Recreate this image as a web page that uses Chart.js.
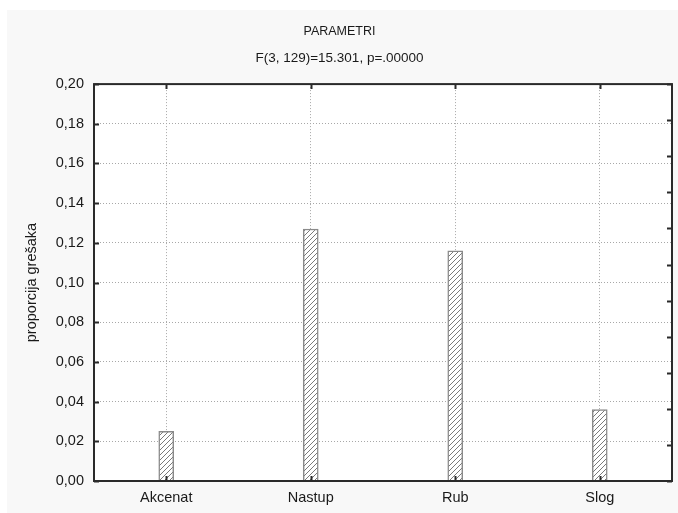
<!DOCTYPE html>
<html>
<head>
<meta charset="utf-8">
<title>PARAMETRI</title>
<script src="https://cdn.jsdelivr.net/npm/chart.js@4/dist/chart.umd.min.js"></script>
<style>
  html, body { margin: 0; padding: 0; background: #ffffff; }
  canvas { display: block; }
</style>
</head>
<body>
<canvas id="chart" width="678" height="513"></canvas>
<script>
// Error proportions per parameter
const categories = ['Akcenat', 'Nastup', 'Rub', 'Slog'];
const proportions = [0.025, 0.127, 0.116, 0.036];

const chartTitle = 'PARAMETRI';
const chartSubtitle = 'F(3, 129)=15.301, p=.00000';
const yAxisTitle = 'proporcija grešaka';
const yMin = 0;
const yMax = 0.2;
const yStep = 0.02;
// right-hand frame axis divisions
const rightDivisions = 11;

const FONT = 'Liberation Sans, Arial, sans-serif';
const TEXT = '#1a1a1a';

// diagonal hatch fill for the bars
function hatchPattern() {
  const c = document.createElement('canvas');
  c.width = 5; c.height = 5;
  const g = c.getContext('2d');
  g.fillStyle = '#ffffff';
  g.fillRect(0, 0, 5, 5);
  g.strokeStyle = '#7a7a7a';
  g.lineWidth = 1;
  g.beginPath();
  g.moveTo(-1, 6); g.lineTo(6, -1);
  g.moveTo(-1, 1); g.lineTo(1, -1);
  g.moveTo(4, 6); g.lineTo(6, 4);
  g.stroke();
  return g.createPattern(c, 'repeat');
}

// panel background, white plot area, frame and inward tick marks
const framePlugin = {
  id: 'frame',
  beforeDraw(chart) {
    const ctx = chart.ctx;
    const a = chart.chartArea;
    ctx.save();
    ctx.fillStyle = '#f8f8f8';
    ctx.fillRect(7, 10, chart.width - 7, chart.height - 10);
    ctx.fillStyle = '#ffffff';
    ctx.fillRect(a.left, a.top, a.right - a.left, a.bottom - a.top);
    ctx.restore();
  },
  afterDraw(chart) {
    const ctx = chart.ctx;
    const a = chart.chartArea;
    const x = chart.scales.x;
    const y = chart.scales.y;
    const yr = chart.scales.yr;
    ctx.save();
    ctx.strokeStyle = '#2a2a2a';
    ctx.lineWidth = 2;
    ctx.strokeRect(a.left, a.top, a.right - a.left, a.bottom - a.top);
    ctx.beginPath();
    y.ticks.forEach((t, i) => {
      const py = Math.round(y.getPixelForTick(i)) + 0.5;
      ctx.moveTo(a.left, py); ctx.lineTo(a.left + 5, py);
    });
    yr.ticks.forEach((t, i) => {
      const py = Math.round(yr.getPixelForTick(i)) + 0.5;
      ctx.moveTo(a.right, py); ctx.lineTo(a.right - 5, py);
    });
    categories.forEach((c, i) => {
      const px = Math.round(x.getPixelForValue(i)) + 0.5;
      ctx.moveTo(px, a.bottom); ctx.lineTo(px, a.bottom - 5);
      ctx.moveTo(px, a.top); ctx.lineTo(px, a.top + 5);
    });
    ctx.stroke();
    ctx.restore();
  }
};

new Chart(document.getElementById('chart'), {
  type: 'bar',
  data: {
    labels: categories,
    datasets: [{
      data: proportions,
      backgroundColor: hatchPattern(),
      borderColor: '#8a8a8a',
      borderWidth: 1.5,
      barThickness: 15
    }]
  },
  plugins: [framePlugin],
  options: {
    responsive: false,
    animation: false,
    events: [],
    layout: { padding: { left: 7, right: 6, top: 0, bottom: 4 } },
    plugins: {
      legend: { display: false },
      tooltip: { enabled: false },
      title: {
        display: true,
        text: chartTitle,
        color: TEXT,
        font: { family: FONT, size: 12.5, weight: 'normal' },
        padding: { top: 24.5, bottom: 4.4 }
      },
      subtitle: {
        display: true,
        text: chartSubtitle,
        color: TEXT,
        font: { family: FONT, size: 13.5, weight: 'normal' },
        padding: { top: 6, bottom: 18 }
      }
    },
    scales: {
      x: {
        grid: {
          offset: false,
          color: '#a8a8a8',
          lineWidth: 1,
          drawTicks: false
        },
        border: { display: false, dash: [1, 2] },
        ticks: {
          color: TEXT,
          padding: 8,
          font: { family: FONT, size: 14.5 }
        },
        afterFit(s) { s.height = 28; }
      },
      y: {
        min: yMin,
        max: yMax,
        grid: { color: '#a8a8a8', lineWidth: 1, drawTicks: false },
        border: { display: false, dash: [1, 2] },
        ticks: {
          stepSize: yStep,
          color: TEXT,
          padding: 10,
          font: { family: FONT, size: 14.5 },
          callback: v => v.toFixed(2).replace('.', ',')
        },
        title: {
          display: true,
          text: yAxisTitle,
          color: TEXT,
          font: { family: FONT, size: 14.5 },
          padding: { top: 16, bottom: 0 }
        },
        afterFit(s) { s.width = 87; }
      },
      yr: {
        position: 'right',
        min: 0,
        max: rightDivisions,
        grid: { drawOnChartArea: false, drawTicks: false },
        border: { display: false },
        ticks: { display: false, stepSize: 1 },
        afterFit(s) { s.width = 0; }
      }
    }
  }
});
</script>
</body>
</html>
